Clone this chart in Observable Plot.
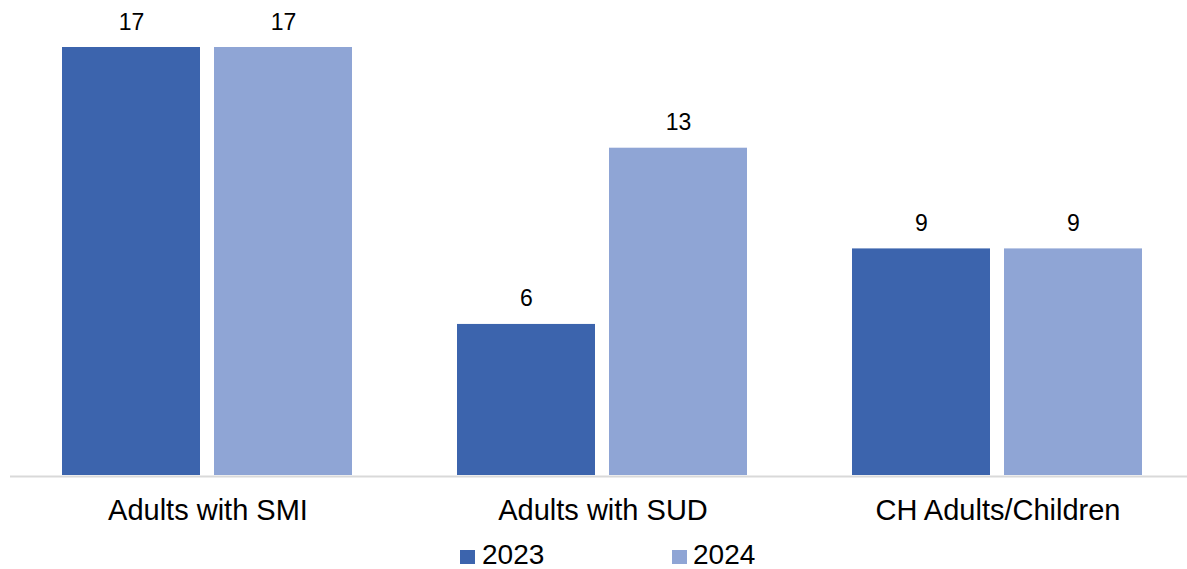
<!DOCTYPE html>
<html><head><meta charset="utf-8">
<script src="https://cdn.jsdelivr.net/npm/d3@7"></script>
<script src="https://cdn.jsdelivr.net/npm/@observablehq/plot@0.6"></script>
<style>
body{margin:0;background:#fff;font-family:"Liberation Sans",Arial,sans-serif;}
#legend{position:relative;height:34px;width:1187px;}
.sw{position:absolute;width:15px;height:14px;}
.lt{position:absolute;font-size:28px;line-height:28px;color:#000;white-space:nowrap;}
</style></head><body><div id="chart"></div><div id="legend"></div>
<script>
const categories = ["Adults with SMI", "Adults with SUD", "CH Adults/Children"];
const years = ["2023", "2024"];
const values2023 = [17, 6, 9];
const values2024 = [17, 13, 9];
const colors = ["#3C64AD", "#8FA5D5"];

const data = categories.flatMap((c, i) => [
  {category: c, year: years[0], value: values2023[i]},
  {category: c, year: years[1], value: values2024[i]}
]);

const chart = Plot.plot({
  width: 1187, height: 535,
  marginLeft: 9, marginRight: -8, marginTop: 47, marginBottom: 60,
  style: {fontFamily: "'Liberation Sans', Arial, sans-serif", background: "#fff", overflow: "hidden"},
  fx: {domain: categories, padding: 0, label: null},
  x: {domain: years, paddingInner: 0.0915, paddingOuter: 0.338, axis: null},
  y: {domain: [0, 17], axis: null},
  color: {domain: years, range: colors},
  marks: [
    Plot.barY(data, {fx: "category", x: "year", y: "value", fill: "year"}),
    Plot.ruleY([0], {stroke: "#d9d9d9", strokeWidth: 2, dy: 1}),
    Plot.text(data, {fx: "category", x: "year", y: "value", text: d => String(d.value), lineAnchor: "bottom", dy: -18, fontSize: 23, fill: "#000"}),
    Plot.axisFx({anchor: "bottom", tickSize: 0, tickPadding: 24, fontSize: 29, label: null, fill: "#000"})
  ]
});
document.getElementById("chart").appendChild(chart);

const color = chart.scale("color");
const legend = document.getElementById("legend");
const swLeft = [460, 672];
const txtLeft = [482, 693];
years.forEach((y, i) => {
  const sw = document.createElement("div");
  sw.className = "sw";
  sw.style.left = swLeft[i] + "px";
  sw.style.top = "15px";
  sw.style.background = color.apply(y);
  legend.appendChild(sw);
  const t = document.createElement("div");
  t.className = "lt";
  t.style.left = txtLeft[i] + "px";
  t.style.top = "6px";
  t.textContent = y;
  legend.appendChild(t);
});
</script></body></html>
